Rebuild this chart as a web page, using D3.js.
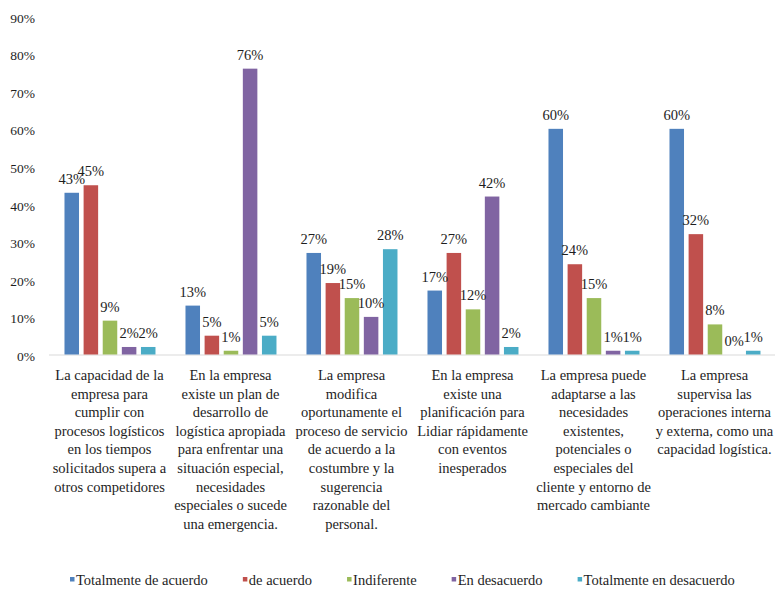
<!DOCTYPE html>
<html>
<head>
<meta charset="utf-8">
<script src="https://cdn.jsdelivr.net/npm/d3@7"></script>
</head>
<body style="margin:0">
<svg id="chart" width="777" height="598" font-family="Liberation Serif, Times New Roman, Tinos"></svg>
<script>
// Survey statements (one entry per group, split into display lines)
const categories = [
  ["La capacidad de la", "empresa para", "cumplir con", "procesos logísticos", "en los tiempos", "solicitados supera a", "otros competidores"],
  ["En la empresa", "existe un plan de", "desarrollo de", "logística apropiada", "para enfrentar una", "situación especial,", "necesidades", "especiales o sucede", "una emergencia."],
  ["La empresa", "modifica", "oportunamente el", "proceso de servicio", "de acuerdo a la", "costumbre y la", "sugerencia", "razonable del", "personal."],
  ["En la empresa", "existe una", "planificación para", "Lidiar rápidamente", "con eventos", "inesperados"],
  ["La empresa puede", "adaptarse a las", "necesidades", "existentes,", "potenciales o", "especiales del", "cliente y entorno de", "mercado cambiante"],
  ["La empresa", "supervisa las", "operaciones interna", "y externa, como una", "capacidad logística."]
];

// Response categories
const seriesNames = ["Totalmente de acuerdo", "de acuerdo", "Indiferente", "En desacuerdo", "Totalmente en desacuerdo"];

// Share of responses per statement
const totalmenteDeAcuerdo     = [0.43, 0.13, 0.27, 0.17, 0.60, 0.60];
const deAcuerdo               = [0.45, 0.05, 0.19, 0.27, 0.24, 0.32];
const indiferente             = [0.09, 0.01, 0.15, 0.12, 0.15, 0.08];
const enDesacuerdo            = [0.02, 0.76, 0.10, 0.42, 0.01, 0.00];
const totalmenteEnDesacuerdo  = [0.02, 0.05, 0.28, 0.02, 0.01, 0.01];

const seriesValues = [totalmenteDeAcuerdo, deAcuerdo, indiferente, enDesacuerdo, totalmenteEnDesacuerdo];
const seriesColors = ["#4f81bd", "#c0504d", "#9bbb59", "#8064a2", "#4bacc6"];

// Value axis ticks
const yTicks = [0, 0.1, 0.2, 0.3, 0.4, 0.5, 0.6, 0.7, 0.8, 0.9];

const FONT = '"Liberation Serif", "Times New Roman", Tinos';
const INK = "#1e1e1e";

// Apply the serif face and size to a text selection
function serif(sel, size) {
  return sel.attr("font-family", FONT).style("font-family", FONT)
    .attr("font-size", size).style("font-size", size + "px")
    .attr("fill", INK);
}

const svg = d3.select("#chart");

const plot = { left: 49, right: 775, top: 16, bottom: 354.5 };

const y = d3.scaleLinear().domain([0, 0.9]).range([plot.bottom, plot.top]);

const groupIdx = d3.range(categories.length);
const x0 = d3.scaleBand().domain(groupIdx).range([plot.left, plot.right]).paddingInner(0).paddingOuter(0);
const x1 = d3.scaleBand().domain(d3.range(seriesNames.length))
  .range([x0.bandwidth() * 0.128, x0.bandwidth() * 0.88]).paddingInner(0.24);

const pct = d3.format(".0%");

// Y axis: labels only
const yAxis = svg.append("g")
  .attr("transform", `translate(${plot.left - 11},0)`)
  .call(d3.axisLeft(y).tickValues(yTicks).tickFormat(pct).tickSize(0).tickPadding(3));
yAxis.attr("font-family", FONT).attr("font-size", 13.5);
yAxis.select(".domain").remove();
serif(yAxis.selectAll("text").attr("dy", "0.45em"), 13.5);

// Category axis baseline
svg.append("line")
  .attr("x1", plot.left).attr("x2", plot.right)
  .attr("y1", plot.bottom + 0.5).attr("y2", plot.bottom + 0.5)
  .attr("stroke", "#d9d9d9").attr("stroke-width", 1);

// Bars and value labels
const groups = svg.append("g").selectAll("g")
  .data(groupIdx).join("g")
  .attr("transform", i => `translate(${x0(i)},0)`);

groups.selectAll("rect")
  .data(i => seriesValues.map((vals, s) => ({ s, v: vals[i] })))
  .join("rect")
  .attr("x", d => x1(d.s))
  .attr("width", x1.bandwidth())
  .attr("y", d => y(d.v))
  .attr("height", d => y(0) - y(d.v))
  .attr("fill", d => seriesColors[d.s]);

serif(groups.selectAll("text.value")
  .data(i => seriesValues.map((vals, s) => ({ s, v: vals[i] })))
  .join("text")
  .attr("class", "value")
  .attr("x", d => x1(d.s) + x1.bandwidth() / 2)
  .attr("y", d => y(d.v) - 9)
  .attr("text-anchor", "middle"), 14.5)
  .text(d => pct(d.v));

// Multi-line category labels
const catLabels = serif(svg.append("g").selectAll("text")
  .data(groupIdx).join("text")
  .attr("text-anchor", "middle")
  .attr("x", i => x0(i) + x0.bandwidth() / 2)
  .attr("y", 380), 14.5);
catLabels.selectAll("tspan")
  .data(i => categories[i])
  .join("tspan")
  .attr("x", function () { return d3.select(this.parentNode).attr("x"); })
  .attr("dy", (d, k) => k === 0 ? 0 : 18.6)
  .text(d => d);

// Legend: marker + name, laid out left to right
const legend = svg.append("g").attr("transform", "translate(0,585)");
let lx = 70;
seriesNames.forEach((name, s) => {
  legend.append("rect")
    .attr("x", lx).attr("y", -8)
    .attr("width", 4.5).attr("height", 4.5)
    .attr("fill", seriesColors[s]);
  const t = serif(legend.append("text")
    .attr("x", lx + 6).attr("y", 0), 14.5)
    .text(name);
  lx += 6 + t.node().getComputedTextLength() + 35;
});
</script>
</body>
</html>
